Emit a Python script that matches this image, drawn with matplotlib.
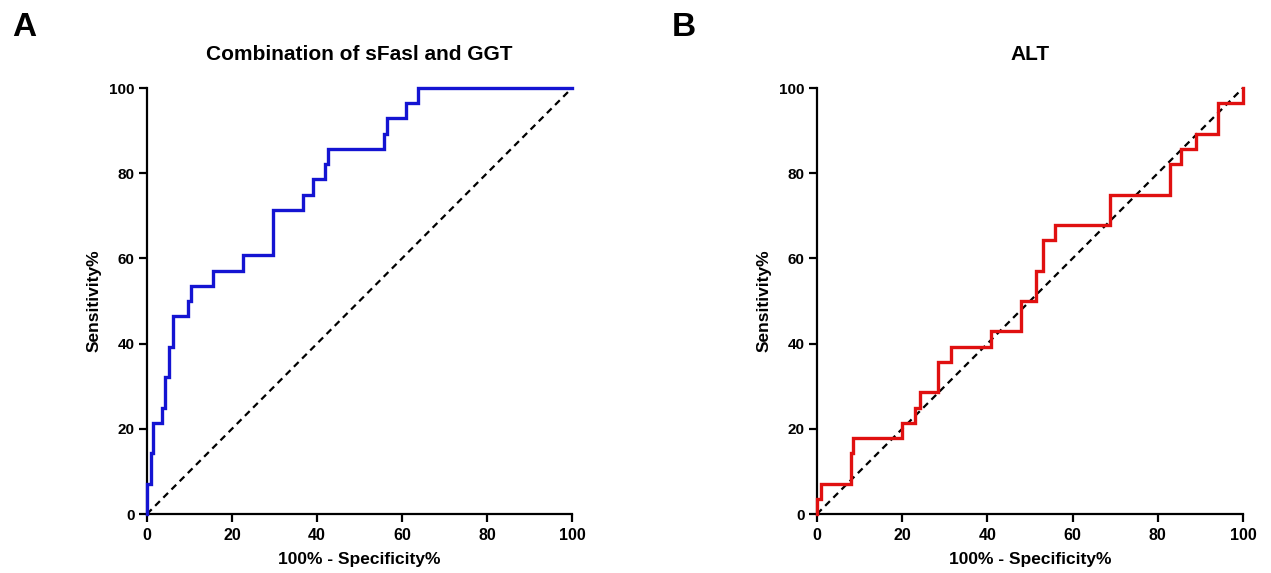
import matplotlib
matplotlib.use("Agg")
import matplotlib.pyplot as plt

plt.rcParams['font.family'] = ['Liberation Sans', 'DejaVu Sans']

# Panel A: Combination of sFasl and GGT (ROC points, 100% - specificity vs sensitivity)
fpr_a = [0, 0, 0.9, 1.5, 3.5, 4.3, 5.1, 6.0, 9.7, 10.4, 15.6, 22.7, 29.7, 36.6,
         39.1, 41.9, 42.7, 55.8, 56.5, 60.9, 63.8, 100]
tpr_a = [0, 7.14, 14.29, 21.43, 25.0, 32.14, 39.29, 46.43, 50.0, 53.57, 57.14,
         60.71, 71.43, 75.0, 78.57, 82.14, 85.71, 89.29, 92.86, 96.43, 100, 100]

# Panel B: ALT
fpr_b = [0, 0, 0.9, 7.9, 8.5, 19.9, 22.9, 24.2, 28.5, 31.5, 40.9, 47.9, 51.3,
         53.1, 55.8, 68.8, 82.8, 85.4, 88.9, 94.2, 100]
tpr_b = [0, 3.57, 7.14, 14.29, 17.86, 21.43, 25.0, 28.57, 35.71, 39.29, 42.86,
         50.0, 57.14, 64.29, 67.86, 75.0, 82.14, 85.71, 89.29, 96.43, 100]

ticks = [0, 20, 40, 60, 80, 100]
titles = ["Combination of sFasl and GGT", "ALT"]
colors = ["#1414D2", "#E01010"]

fig = plt.figure(figsize=(12.71, 5.73), dpi=100)
W, H = 1271, 573
axA = fig.add_axes([147 / W, 1 - 514 / H, 425 / W, 426 / H])
axB = fig.add_axes([817 / W, 1 - 514 / H, 426 / W, 426 / H])

for ax, fx, ty, title, col in zip([axA, axB], [fpr_a, fpr_b], [tpr_a, tpr_b], titles, colors):
    ax.plot([0, 100], [0, 100], color="black", linestyle=(0, (3, 2.2)), linewidth=1.6, clip_on=False, zorder=2)
    ax.plot(fx, ty, drawstyle="steps-post", color=col, linewidth=2.4, clip_on=False, zorder=3,
            solid_joinstyle="miter")
    ax.set_xlim(0, 100)
    ax.set_ylim(0, 100)
    ax.set_xticks(ticks)
    ax.set_yticks(ticks)
    ax.set_xticklabels([str(t) for t in ticks], fontweight="bold", fontsize=11.5)
    ax.set_yticklabels([str(t) for t in ticks], fontweight="bold", fontsize=11)
    for s in ["top", "right"]:
        ax.spines[s].set_visible(False)
    for s in ["left", "bottom"]:
        ax.spines[s].set_linewidth(1.6)
    ax.tick_params(axis="x", direction="out", length=5.5, width=1.6, pad=4.5)
    ax.tick_params(axis="y", direction="out", length=5.5, width=1.6, pad=3.5)
    ax.set_xlabel("100% - Specificity%", fontweight="bold", fontsize=12.5, labelpad=6.5)
    ax.set_ylabel("Sensitivity%", fontweight="bold", fontsize=12.5, labelpad=5)
    ax.set_title(title, fontweight="bold", fontsize=15, pad=20)

fig.text(24 / W, 1 - 27 / H, "A", fontsize=24, fontweight="bold", ha="center", va="center")
fig.text(684 / W, 1 - 27 / H, "B", fontsize=24, fontweight="bold", ha="center", va="center")

fig.savefig("out.png", dpi=100)
